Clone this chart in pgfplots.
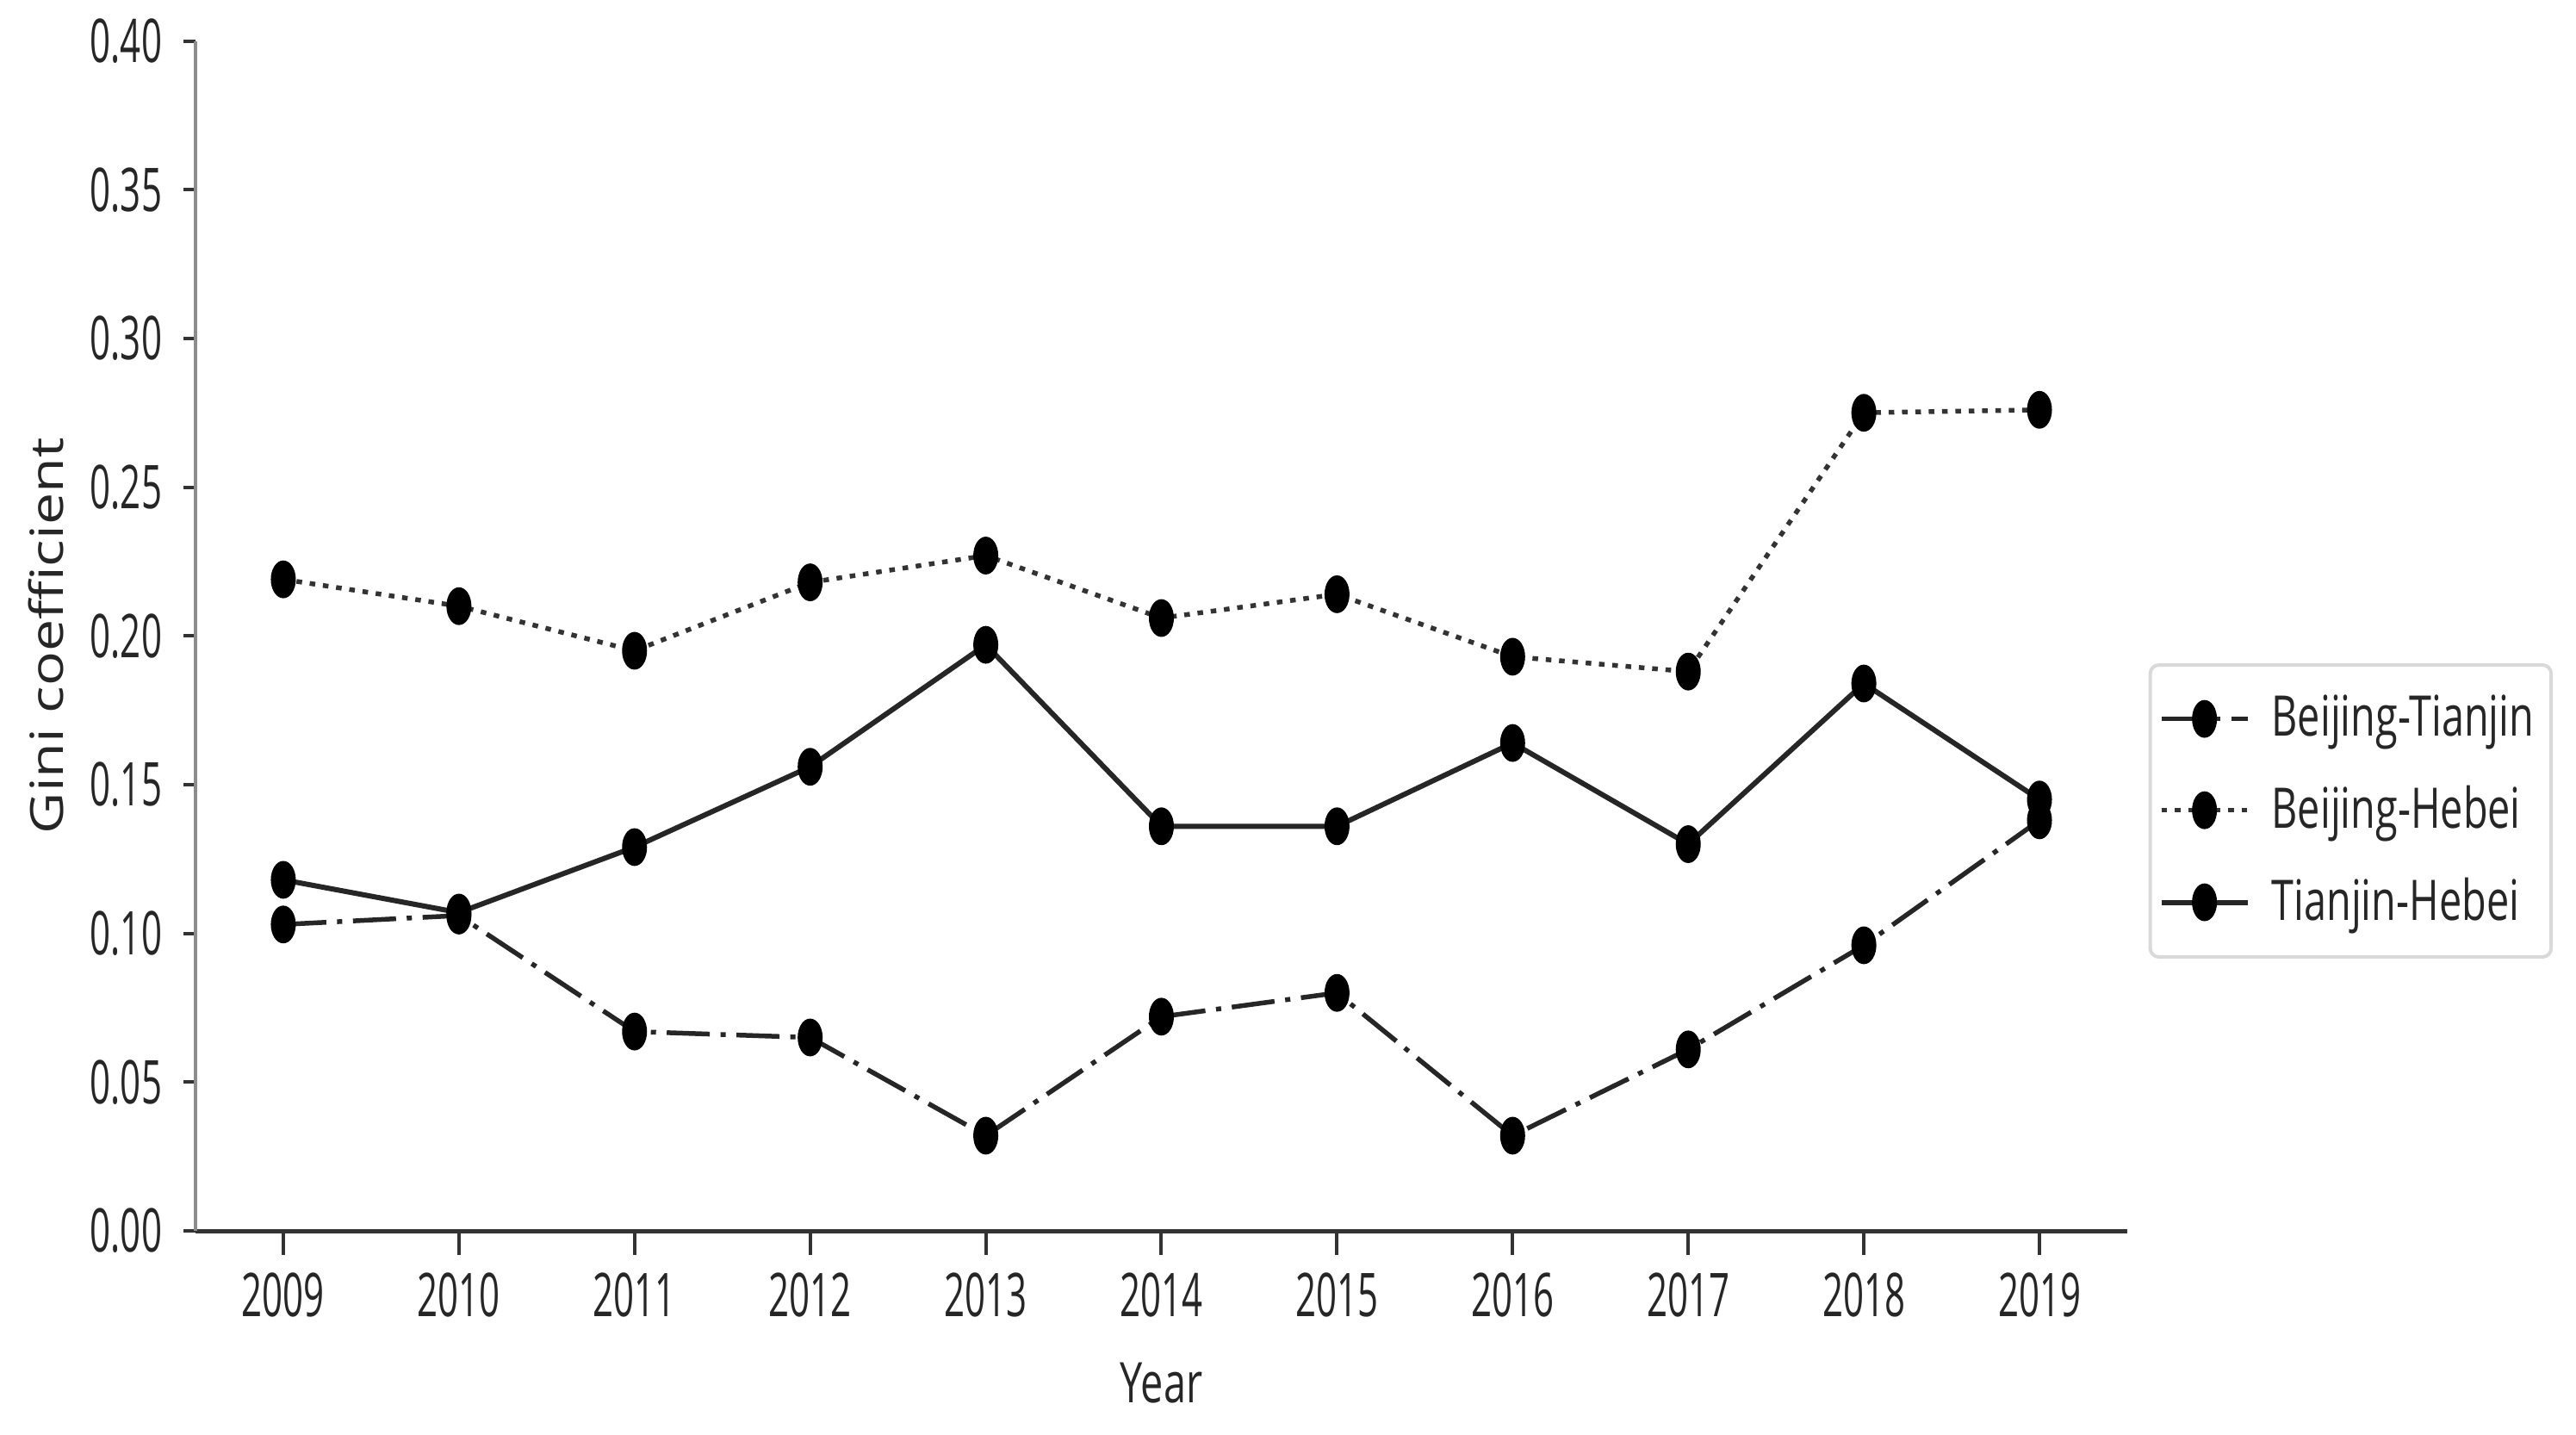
\documentclass[border=0pt]{standalone}
\usepackage{fontspec}
\setmainfont{Open Sans}[FakeStretch=0.72]
\newfontfamily\tickfont{Open Sans}[FakeStretch=0.6]
\newfontfamily\ylabfont{Open Sans}[FakeStretch=1.25]
\usepackage{pgfplots}
\usepackage{pgfplotstable}
\pgfplotsset{compat=1.18}

% Gini coefficients
\pgfplotstableread{
year   bt     bh     th
2009   0.103  0.219  0.118
2010   0.106  0.210  0.107
2011   0.067  0.195  0.129
2012   0.065  0.218  0.156
2013   0.032  0.227  0.197
2014   0.072  0.206  0.136
2015   0.080  0.214  0.136
2016   0.032  0.193  0.164
2017   0.061  0.188  0.130
2018   0.096  0.275  0.184
2019   0.138  0.276  0.145
}\gini

\pgfplotsset{gmark/.style={mark=*, mark size=2.7pt,
    mark options={solid, fill=black, draw=black, line width=0.4pt, yscale=1.55}}}

\begin{document}
\begin{tikzpicture}
\path[use as bounding box] (-45.4pt,-47.2pt) rectangle (552.8pt,285.8pt);
\begin{axis}[
    at={(0,0)}, anchor=south west,
    scale only axis,
    width=448.6pt, height=276.3pt,
    xmin=2008.5, xmax=2019.5,
    ymin=0, ymax=0.40,
    xtick={2009,2010,...,2019},
    ytick={0,0.05,0.10,0.15,0.20,0.25,0.30,0.35,0.40},
    axis x line*=bottom, axis y line*=left,
    x axis line style={black!80, line width=1pt},
    y axis line style={black!45, line width=0.8pt},
    tick align=outside,
    tick style={black!80, line width=0.8pt},
    xtick style={/pgfplots/major tick length=5.6pt},
    ytick style={/pgfplots/major tick length=2.8pt},
    /pgf/number format/assume math mode=true,
    tick label style={font=\tickfont\fontsize{14}{16}\selectfont, black!85},
    xticklabel style={/pgf/number format/1000 sep={}, yshift=-2pt},
    yticklabel style={/pgf/number format/.cd, fixed, fixed zerofill, precision=2},
    xlabel={Year},
    xlabel style={font=\fontsize{13}{15}\selectfont, black!85, at={(axis description cs:0.5,0)}, anchor=north, inner sep=0pt, yshift=-30.4pt},
    ylabel={Gini coefficient},
    ylabel style={font=\ylabfont\fontsize{10.6}{12}\selectfont, black!85, at={(axis description cs:0,0.5)}, anchor=center, inner sep=0pt, yshift=34.8pt},
    legend style={at={(1.011,0.477)}, anchor=north west, draw=black!15, line width=0.8pt,
        rounded corners=2pt, font=\fontsize{13}{15}\selectfont, text=black!85,
        row sep=6pt, inner xsep=2pt, inner ysep=5pt,
        /tikz/every odd column/.append style={column sep=3pt}},
    legend cell align=left,
    legend image code/.code={\draw[mark repeat=2,mark phase=2] plot coordinates {(0pt,0pt) (10pt,0pt) (20pt,0pt)};},
    clip=false,
]
\addplot[black!85, line width=1.1pt, dash pattern=on 10pt off 2.5pt on 1.2pt off 2.5pt, gmark]
    table[x=year, y=bt]{\gini};
\addlegendentry{Beijing-Tianjin}
\addplot[black!80, line width=1.1pt, dash pattern=on 1.3pt off 1.8pt, gmark]
    table[x=year, y=bh]{\gini};
\addlegendentry{Beijing-Hebei}
\addplot[black!85, line width=1.2pt, solid, gmark]
    table[x=year, y=th]{\gini};
\addlegendentry{Tianjin-Hebei}
\end{axis}
\end{tikzpicture}
\end{document}
